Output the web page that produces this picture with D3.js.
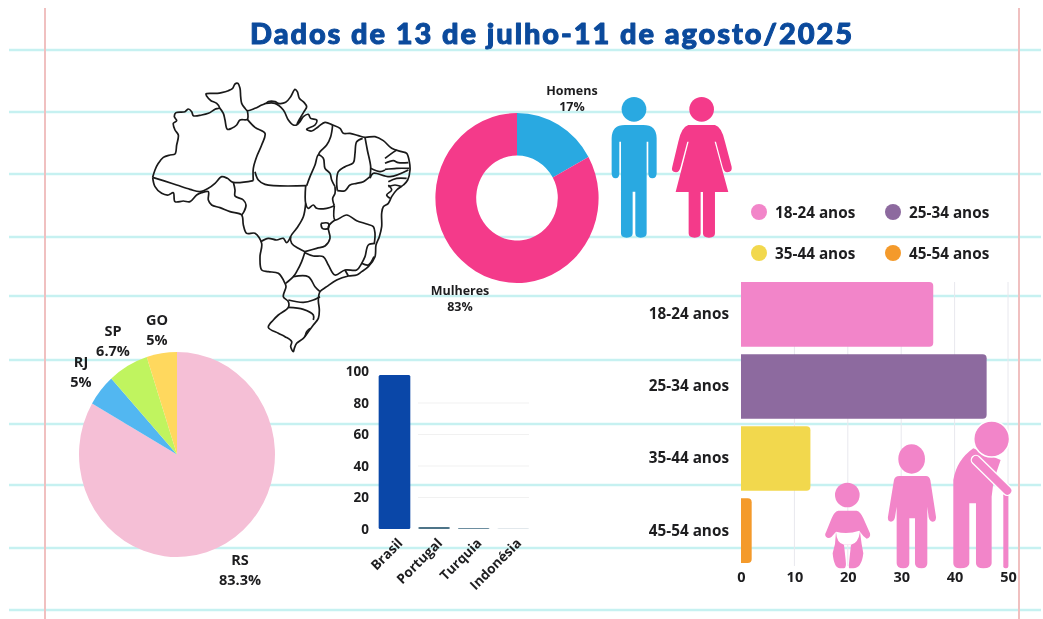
<!DOCTYPE html>
<html><head><meta charset="utf-8">
<script src="https://cdnjs.cloudflare.com/ajax/libs/d3/7.8.5/d3.min.js"></script>
<style>
html,body{margin:0;padding:0;background:#fff}
svg{display:block;filter:blur(0.35px)}
text{font-family:"Open Sans",sans-serif;font-weight:700;fill:#1d1d1f}
.ax .domain{display:none}
.ax .tick line{display:none}
</style></head><body>
<svg id="c" width="1043" height="619"></svg>
<script>
const titleText = "Dados de 13 de julho-11 de agosto/2025";
const genderLabels = ["Homens","Mulheres"];
const genderValues = [17,83];
const genderColors = ["#29a9e1","#f43a8a"];
const stateLabels = ["RS","RJ","SP","GO"];
const stateValues = [83.3,5,6.7,5];
const stateColors = ["#f5bfd6","#52b7f1","#c0f45f","#ffd85e"];
const countries = ["Brasil","Portugal","Turquia","Indonésia"];
const countryValues = [97.7,1.2,0.7,0.3];
const countryColors = ["#0a47a8","#4d7488","#6d8ea0","#c5d2da"];
const ageLabels = ["18-24 anos","25-34 anos","35-44 anos","45-54 anos"];
const ageValues = [36,46,13,2];
const ageColors = ["#f285c9","#8d6a9f","#f2d84d","#f49a2b"];
const ruleRows = [50,112,174,237,296,360,424,485,548,610];
const marginCols = [45,1019];

const svg = d3.select("#c");
// notebook paper
svg.append("g").selectAll("line").data(ruleRows).join("line")
  .attr("x1",9).attr("x2",1041).attr("y1",d=>d).attr("y2",d=>d)
  .attr("stroke","#c6f1f1").attr("stroke-width",2.4);
svg.append("g").selectAll("line").data(marginCols).join("line")
  .attr("x1",d=>d).attr("x2",d=>d).attr("y1",8).attr("y2",619)
  .attr("stroke","#f0c0c0").attr("stroke-width",2);

svg.append("text").attr("x",551).attr("y",44).attr("text-anchor","middle")
  .attr("textLength",602).attr("lengthAdjust","spacing")
  .style("font-family","Lato,sans-serif").style("font-weight",900).style("font-size","29px")
  .style("fill","#0b4a9c").style("stroke","#0b4a9c").style("stroke-width","1px").style("stroke-linejoin","round")
  .text(titleText);

// Brazil map outline + state borders (traced, in crop units)
const mapOuter = [[38,322],[45,300],[55,280],[70,262],[90,255],[105,252],[110,225],[115,195],[105,180],[100,160],[110,152],[103,140],[108,128],[135,125],[145,117],[155,125],[160,137],[185,135],[205,130],[225,118],[238,113],[230,100],[213,92],[205,85],[198,72],[215,70],[232,70],[245,68],[265,62],[278,55],[285,42],[293,40],[300,55],[302,80],[305,100],[315,115],[322,122],[345,115],[365,105],[378,100],[385,95],[405,95],[415,100],[437,97],[452,80],[465,58],[472,65],[478,85],[492,97],[500,110],[492,125],[480,145],[470,165],[480,155],[490,140],[505,133],[512,145],[530,150],[525,165],[500,178],[515,183],[535,170],[555,157],[578,165],[600,175],[610,190],[630,190],[655,197],[675,202],[705,200],[730,212],[755,235],[785,245],[800,250],[808,275],[810,300],[803,330],[790,345],[770,360],[755,380],[745,400],[730,410],[725,430],[725,470],[718,500],[708,525],[705,560],[685,590],[665,605],[650,615],[625,618],[590,630],[560,650],[540,665],[535,690],[538,720],[535,745],[520,765],[505,785],[490,805],[470,820],[463,835],[460,845],[452,830],[455,815],[435,800],[415,790],[385,772],[400,750],[415,735],[445,712],[445,695],[430,680],[438,650],[435,640],[415,610],[385,605],[365,600],[360,560],[365,520],[345,490],[320,490],[310,465],[305,435],[270,425],[240,413],[215,405],[205,390],[205,365],[185,368],[170,375],[150,395],[130,393],[105,395],[100,368],[85,375],[65,370],[45,350],[38,322]];
const mapInner = [
 [[38,322],[70,332],[110,345],[150,358],[180,365],[205,355],[225,340],[245,320],[262,325],[280,337],[340,332]],
 [[280,337],[285,360],[285,378],[310,390],[318,405],[312,425],[305,435]],
 [[238,113],[250,130],[255,150],[262,178],[275,175],[290,165],[300,150],[322,148],[322,122]],
 [[322,148],[345,172],[375,190],[365,225],[350,260],[340,295],[340,332]],
 [[345,305],[355,330],[375,343],[500,347]],
 [[378,100],[405,100],[430,120],[445,150],[460,165],[470,165]],
 [[500,347],[510,320],[525,285],[535,255],[550,265],[555,295],[570,310],[575,330],[585,350]],
 [[578,165],[572,200],[560,225],[540,245],[535,255]],
 [[497,347],[497,400],[505,415],[520,405],[530,415],[560,415],[583,407]],
 [[585,350],[585,370],[578,385],[583,407]],
 [[668,205],[650,215],[645,250],[640,278],[615,290],[595,305],[590,335],[592,362]],
 [[675,202],[682,240],[692,290],[690,320]],
 [[592,362],[615,362],[630,345],[650,340],[670,335],[690,320]],
 [[692,295],[720,305],[735,300]],
 [[690,325],[700,310],[750,320],[805,300]],
 [[735,265],[755,250],[770,240]],
 [[735,280],[760,272],[775,278],[805,278]],
 [[735,298],[770,295],[808,295]],
 [[745,335],[770,325],[800,325]],
 [[745,350],[765,345],[785,350]],
 [[745,345],[755,360],[740,375],[750,385]],
 [[583,407],[585,450],[620,435],[650,452],[680,462],[700,470],[705,490],[703,520]],
 [[497,400],[490,440],[470,475],[452,500],[455,520],[475,535],[495,545]],
 [[495,545],[530,535],[555,528],[570,505],[565,470],[585,450]],
 [[543,460],[565,460],[565,475],[547,475],[543,460]],
 [[362,515],[385,505],[410,510],[430,505],[440,518],[452,500]],
 [[495,545],[485,575],[470,605],[460,620],[437,640]],
 [[495,548],[520,558],[550,560],[565,585],[585,615],[615,600],[650,600],[665,580],[675,560],[685,525],[705,520]],
 [[665,580],[685,585],[702,560]],
 [[615,600],[625,618]],
 [[460,620],[505,620],[525,650],[540,665]],
 [[445,690],[490,697],[520,690],[540,680]],
 [[445,712],[490,718],[520,735],[520,750]],
 [[495,800],[500,785],[510,775]]
];
const mapX = d3.scaleLinear().domain([0,870]).range([140,430]);
const mapY = d3.scaleLinear().domain([0,870]).range([70,360]);
const mapLine = d3.line().x(d=>mapX(d[0])).y(d=>mapY(d[1])).curve(d3.curveCatmullRom.alpha(0.5));
svg.append("g").attr("fill","none").attr("stroke","#1a1a1a").attr("stroke-width",1.7).attr("stroke-linejoin","round")
  .selectAll("path").data([mapOuter,...mapInner]).join("path").attr("d",mapLine);

// donut
const donutCx=517, donutCy=198, donutR=85;
const donutG = svg.append("g").attr("transform",`translate(${donutCx},${donutCy}) scale(0.96,1)`);
const donutPie = d3.pie().sort(null)(genderValues);
const donutArc = d3.arc().innerRadius(donutR*0.5).outerRadius(donutR);
donutG.selectAll("path").data(donutPie).join("path").attr("d",donutArc).attr("fill",(d,i)=>genderColors[i]);
const genderPos=[[572,91],[460,291]];
genderLabels.forEach((l,i)=>{
  const t=svg.append("text").attr("text-anchor","middle").style("font-size","12.5px");
  t.append("tspan").attr("x",genderPos[i][0]).attr("y",genderPos[i][1]+4).text(l);
  t.append("tspan").attr("x",genderPos[i][0]).attr("y",genderPos[i][1]+20).text(genderValues[i]+"%");
});

// gender icons
const g1 = svg.append("g").attr("transform","translate(420,70) scale(0.3333)");
g1.append("circle").attr("cx",642).attr("cy",118).attr("r",37).attr("fill",genderColors[0]);
g1.append("path").attr("fill",genderColors[0]).attr("d","M575,205 Q575,165 615,165 L670,165 Q710,165 710,205 L710,310 Q710,325 697,325 Q685,325 685,310 L685,215 L680,215 L680,490 Q680,503 662,503 Q646,503 646,490 L646,365 L638,365 L638,490 Q638,503 620,503 Q603,503 603,490 L603,215 L598,215 L598,310 Q598,325 587,325 Q575,325 575,310 Z");
g1.append("circle").attr("cx",845).attr("cy",118).attr("r",37).attr("fill",genderColors[1]);
g1.append("path").attr("fill",genderColors[1]).attr("d","M805,165 L885,165 Q905,170 915,215 L935,290 Q938,305 922,307 Q912,307 908,290 L888,215 L884,215 L925,366 L885,366 L885,490 Q885,503 867,503 Q849,503 849,490 L849,366 L842,366 L842,490 Q842,503 824,503 Q806,503 806,490 L806,366 L767,366 L806,215 L802,215 L782,290 Q778,307 768,307 Q752,305 757,290 L775,215 Q785,170 805,165 Z");

// legend
const legendX=d3.scaleOrdinal().domain([0,1]).range([759,893]);
const legendY=d3.scaleOrdinal().domain([0,1]).range([212,253]);
const lg=svg.append("g").selectAll("g").data(ageLabels).join("g")
  .attr("transform",(d,i)=>`translate(${legendX(i%2)},${legendY(i>>1)})`);
lg.append("circle").attr("r",8).attr("fill",(d,i)=>ageColors[i]);
lg.append("text").attr("x",16).attr("y",5.5).style("font-size","15.3px").text(d=>d);

// age bars
const ageX=d3.scaleLinear().domain([0,50]).range([741,1008]);
const ageY=d3.scaleBand().domain(ageLabels).range([278.5,566.5]).paddingInner(0.105).paddingOuter(0.05);
svg.append("g").selectAll("line").data([10,20,30,40,50]).join("line")
  .attr("x1",d=>ageX(d)).attr("x2",d=>ageX(d)).attr("y1",282).attr("y2",566)
  .attr("stroke","#e8e8ee").attr("stroke-width",1);
svg.append("g").selectAll("path").data(ageValues).join("path").attr("fill",(d,i)=>ageColors[i])
  .attr("d",(d,i)=>{
    const x0=ageX(0),x1=ageX(d),y0=ageY(ageLabels[i]),h=ageY.bandwidth(),r=Math.min(4,x1-x0);
    const p=d3.path();
    p.moveTo(x0,y0);p.lineTo(x1-r,y0);p.arcTo(x1,y0,x1,y0+r,r);p.lineTo(x1,y0+h-r);p.arcTo(x1,y0+h,x1-r,y0+h,r);p.lineTo(x0,y0+h);p.closePath();
    return p.toString();
  });
const ageAxL=svg.append("g").attr("class","ax").attr("transform","translate(741,0)")
  .call(d3.axisLeft(ageY).tickSize(0).tickPadding(12));
ageAxL.attr("font-family",null).attr("font-size",null).selectAll("text").style("font-size","15.3px").style("fill","#1d1d1f");
const ageAxB=svg.append("g").attr("class","ax").attr("transform","translate(0,566)")
  .call(d3.axisBottom(ageX).tickValues([0,10,20,30,40,50]).tickSize(0).tickPadding(6));
ageAxB.attr("font-family",null).attr("font-size",null).selectAll("text").style("font-size","14.5px");

// people icons
const pink="#f285c9";
const g2=svg.append("g").attr("transform","translate(740,400) scale(0.3333)").attr("fill",pink);
g2.append("circle").attr("cx",322).attr("cy",285).attr("r",37);
g2.append("path").attr("d","M295,332 L350,332 Q362,335 370,355 L390,400 Q393,413 380,416 L370,408 L360,395 L365,432 L370,460 Q365,505 340,505 L328,505 Q325,505 328,480 L333,434 L312,434 L317,480 Q320,505 312,505 L300,505 Q282,505 278,460 L285,432 L288,395 L275,410 Q265,418 258,410 Q253,405 258,397 L275,355 Q282,335 295,332Z");
g2.append("path").attr("fill","#fff").attr("d","M288,395 Q322,405 358,392 L360,395 Q355,430 333,434 L312,434 Q290,430 288,395Z");
g2.append("ellipse").attr("cx",515).attr("cy",177).attr("rx",40).attr("ry",44);
g2.append("path").attr("d","M478,228 L558,228 Q568,228 571,240 L588,350 Q589,365 577,365 Q570,365 566,352 L562,320 L562,490 Q562,505 545,505 Q525,505 525,490 L525,355 L508,355 L508,490 Q508,505 490,505 Q470,505 470,490 L470,320 L465,352 Q462,365 453,365 Q442,365 444,350 L462,240 Q465,228 478,228Z");
g2.append("path").attr("d","M700,145 Q650,180 640,240 L640,490 Q640,505 660,505 Q688,505 688,490 L688,310 L708,310 L708,490 Q708,505 730,505 Q755,505 755,490 L755,290 L760,250 L770,215 L782,180 Z");
g2.append("rect").attr("x",790).attr("y",280).attr("width",15).attr("height",225).attr("rx",6);
g2.append("line").attr("x1",708).attr("y1",180).attr("x2",802).attr("y2",272).attr("stroke","#fff").attr("stroke-width",32).attr("stroke-linecap","round");
g2.append("line").attr("x1",708).attr("y1",180).attr("x2",802).attr("y2",272).attr("stroke",pink).attr("stroke-width",24).attr("stroke-linecap","round");
g2.append("circle").attr("cx",755).attr("cy",117).attr("r",54).attr("stroke","#fff").attr("stroke-width",5);

// state pie
const pieG=svg.append("g").attr("transform","translate(177,454.5) scale(0.956,1)");
const pieArc=d3.arc().innerRadius(0).outerRadius(102.5);
pieG.selectAll("path").data(d3.pie().sort(null)(stateValues)).join("path").attr("d",pieArc).attr("fill",(d,i)=>stateColors[i]);
const statePos=[[240,560],[81,362],[113,331],[157,320]];
stateLabels.forEach((l,i)=>{
  const t=svg.append("text").attr("text-anchor","middle").style("font-size","14.5px");
  t.append("tspan").attr("x",statePos[i][0]).attr("y",statePos[i][1]+5).text(l);
  t.append("tspan").attr("x",statePos[i][0]).attr("y",statePos[i][1]+25).text(stateValues[i]+"%");
});

// country bars
const cX=d3.scaleBand().domain(countries).range([374.7,533]).paddingInner(0.2).paddingOuter(0.1);
const cY=d3.scaleLinear().domain([0,100]).range([529,371.5]);
svg.append("g").selectAll("line").data([20,40,60,80]).join("line")
  .attr("x1",418).attr("x2",529).attr("y1",d=>cY(d)).attr("y2",d=>cY(d))
  .attr("stroke","#f1f1f1");
svg.append("g").selectAll("rect").data(countryValues).join("rect")
  .attr("x",(d,i)=>cX(countries[i])).attr("width",cX.bandwidth())
  .attr("y",d=>cY(d)).attr("height",d=>cY(0)-cY(d)).attr("rx",1.5)
  .attr("fill",(d,i)=>countryColors[i]);
const cAxL=svg.append("g").attr("class","ax").attr("transform","translate(378,0)")
  .call(d3.axisLeft(cY).tickValues([0,20,40,60,80,100]).tickSize(0).tickPadding(9));
cAxL.attr("font-family",null).attr("font-size",null).selectAll("text").style("font-size","13.5px");
const cAxB=svg.append("g").attr("class","ax").attr("transform","translate(0,529)")
  .call(d3.axisBottom(cX).tickSize(0).tickPadding(0));
cAxB.attr("font-family",null).attr("font-size",null).selectAll("text")
  .attr("text-anchor","end").attr("dy",0)
  .attr("transform","translate(9,15) rotate(-45)")
  .attr("y",0).style("font-size","13.5px");
</script></body></html>
